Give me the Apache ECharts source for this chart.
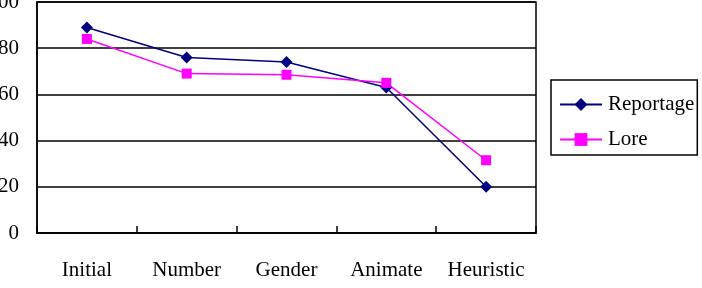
<!DOCTYPE html>
<html>
<head>
<meta charset="utf-8">
<script src="https://cdn.jsdelivr.net/npm/echarts@6/dist/echarts.min.js"></script>
<style>
  html, body { margin: 0; padding: 0; background: #fff; }
  #main { width: 702px; height: 288px; }
</style>
</head>
<body>
<div id="main"></div>
<script>
// 資料
const categories = ['Initial', 'Number', 'Gender', 'Animate', 'Heuristic']
const reportage = [89, 76, 74, 63, 20]
const lore = [84, 69, 68.5, 65, 31.5]
const yTicks = [0, 20, 40, 60, 80, 100]

const font = '"Liberation Serif", "DejaVu Serif", serif'

const myChart = echarts.init(document.getElementById('main'))
const option = {
  animation: false,
  grid: {
    left: 37,
    right: 166,
    top: 2,
    bottom: 55,
    outerBoundsMode: 'none',
    containLabel: false,
    show: true,
    borderColor: '#000',
    borderWidth: 1.5,
  },
  legend: {
    orient: 'vertical',
    left: 551,
    top: 80,
    padding: [14, 3, 5, 8],
    itemGap: 14,
    itemWidth: 42,
    itemHeight: 16,
    borderColor: '#000',
    borderWidth: 1.5,
    textStyle: { fontFamily: font, fontSize: 21, color: '#000', padding: [0, 0, 0, 1] },
    data: ['Reportage', 'Lore'],
  },
  xAxis: {
    type: 'category',
    data: categories,
    boundaryGap: true,
    axisLine: { show: true, lineStyle: { color: '#000', width: 1.5 } },
    axisTick: { show: true, inside: true, length: 7, interval: 0, lineStyle: { color: '#000', width: 1.5 } },
    axisLabel: { interval: 0, hideOverlap: false, margin: 27, fontFamily: font, fontSize: 21, color: '#000' },
  },
  yAxis: {
    type: 'value',
    min: yTicks[0],
    max: yTicks[yTicks.length - 1],
    interval: 20,
    axisLine: { show: true, lineStyle: { color: '#000', width: 1.5 } },
    axisTick: { show: false },
    axisLabel: { margin: 18, fontFamily: font, fontSize: 21, color: '#000' },
    splitLine: { lineStyle: { color: '#000', width: 1.5 } },
  },
  series: [
    {
      name: 'Reportage',
      type: 'line',
      data: reportage,
      symbol: 'diamond',
      symbolSize: 12,
      itemStyle: { color: '#000080' },
      lineStyle: { color: '#000080', width: 1.5 },
    },
    {
      name: 'Lore',
      type: 'line',
      data: lore,
      symbol: 'rect',
      symbolSize: 10,
      itemStyle: { color: '#ff00ff' },
      lineStyle: { color: '#ff00ff', width: 1.5 },
    },
  ],
}
myChart.setOption(option)
</script>
</body>
</html>
